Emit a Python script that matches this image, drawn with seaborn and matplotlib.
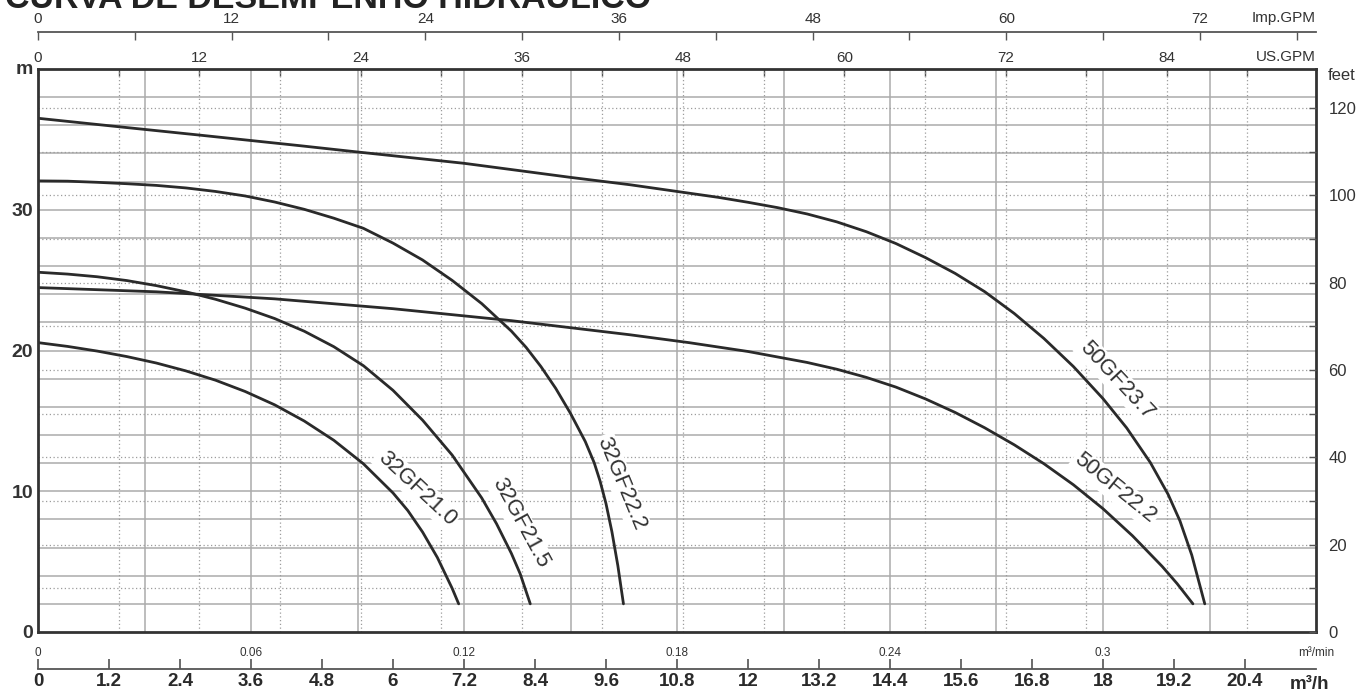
import numpy as np
import pandas as pd
import matplotlib
matplotlib.use("Agg")
import matplotlib.pyplot as plt
import seaborn as sns

# ---------------- data ----------------
q_32GF21_0 = [0.0, 0.5, 1.0, 1.5, 2.0, 2.5, 3.0, 3.5, 4.0, 4.5, 5.0, 5.5, 6.0, 6.25, 6.5, 6.75, 7.0, 7.11]
h_32GF21_0 = [20.56, 20.29, 19.96, 19.57, 19.11, 18.55, 17.89, 17.09, 16.14, 14.99, 13.62, 11.95, 9.88,
              8.63, 7.10, 5.29, 3.10, 2.0]

q_32GF21_5 = [0.0, 0.5, 1.0, 1.5, 2.0, 2.5, 3.0, 3.5, 4.0, 4.5, 5.0, 5.5, 6.0, 6.5, 7.0, 7.5, 7.75,
              8.0, 8.15, 8.32]
h_32GF21_5 = [25.56, 25.43, 25.24, 24.97, 24.61, 24.17, 23.64, 23.01, 22.27, 21.37, 20.27, 18.92, 17.17,
              15.05, 12.57, 9.52, 7.69, 5.59, 4.13, 2.0]

q_32GF22_2 = [0.0, 0.5, 1.0, 1.5, 2.0, 2.5, 3.0, 3.5, 4.0, 4.5, 5.0, 5.5, 6.0, 6.5, 7.0, 7.5, 8.0,
              8.25, 8.5, 8.75, 9.0, 9.25, 9.4, 9.5, 9.6, 9.7, 9.8, 9.895]
h_32GF22_2 = [32.05, 32.03, 31.95, 31.85, 31.73, 31.55, 31.30, 30.98, 30.55, 30.03, 29.40, 28.68, 27.63,
              26.43, 24.98, 23.33, 21.38, 20.22, 18.86, 17.31, 15.53, 13.53, 12.03, 10.72, 9.12, 7.12,
              4.72, 2.0]

q_50GF22_2 = [0.0, 2.0, 4.0, 6.0, 8.0, 10.0, 11.0, 12.0, 13.0, 13.5, 14.0, 14.5, 15.0, 15.5, 16.0,
              16.5, 17.0, 17.5, 18.0, 18.5, 19.0, 19.25, 19.52]
h_50GF22_2 = [24.47, 24.17, 23.67, 22.97, 22.12, 21.12, 20.56, 19.93, 19.15, 18.67, 18.09, 17.40, 16.56,
              15.60, 14.51, 13.30, 11.96, 10.46, 8.76, 6.83, 4.66, 3.45, 2.0]

q_50GF23_7 = [0.0, 1.36, 2.74, 4.43, 5.41, 7.2, 9.0, 10.0, 11.0, 11.5, 12.0, 12.5, 13.0, 13.5, 14.0,
              14.5, 15.0, 15.5, 16.0, 16.5, 17.0, 17.5, 18.0, 18.4, 18.8, 19.1, 19.3, 19.5, 19.72]
h_50GF23_7 = [36.5, 35.9, 35.3, 34.55, 34.1, 33.3, 32.3, 31.78, 31.18, 30.88, 30.53, 30.15, 29.70, 29.14,
              28.44, 27.60, 26.60, 25.48, 24.18, 22.63, 20.86, 18.86, 16.58, 14.50, 12.04, 9.78, 7.90,
              5.47, 2.0]

models = ["32GF21.0", "32GF21.5", "32GF22.2", "50GF22.2", "50GF23.7"]
series_q = [q_32GF21_0, q_32GF21_5, q_32GF22_2, q_50GF22_2, q_50GF23_7]
series_h = [h_32GF21_0, h_32GF21_5, h_32GF22_2, h_50GF22_2, h_50GF23_7]

# axis tick values
m3h_ticks = [0, 1.2, 2.4, 3.6, 4.8, 6, 7.2, 8.4, 9.6, 10.8, 12, 13.2, 14.4, 15.6, 16.8, 18, 19.2, 20.4]
m3min_ticks = [0, 0.06, 0.12, 0.18, 0.24, 0.3]
usgpm_ticks = [0, 6, 12, 18, 24, 30, 36, 42, 48, 54, 60, 66, 72, 78, 84, 90]
impgpm_ticks = [0, 6, 12, 18, 24, 30, 36, 42, 48, 54, 60, 66, 72, 78]
m_ticks = [0, 10, 20, 30]
m_grid = [2, 4, 6, 8, 10, 12, 14, 16, 18, 20, 22, 24, 26, 28, 30, 32, 34, 36, 38]
q_grid = [1.8, 3.6, 5.4, 7.2, 9.0, 10.8, 12.6, 14.4, 16.2, 18.0, 19.8]
feet_ticks = [0, 20, 40, 60, 80, 100, 120]
feet_grid = [10, 20, 30, 40, 50, 60, 70, 80, 90, 100, 110, 120]

Q_MAX = 21.6       # m3/h at right edge
H_MAX = 40.0       # m at top edge
FT_MAX = 128.9     # feet scale at top edge as drawn
US_PER_M3H = 4.4029
IMP_PER_M3H = 3.6661

df = pd.concat([pd.DataFrame({"q": q, "h": h, "model": m})
                for m, q, h in zip(models, series_q, series_h)], ignore_index=True)

# ---------------- style ----------------
sns.set_style("white")
plt.rcParams["font.family"] = ["Liberation Sans", "DejaVu Sans"]

W, H = 1370, 693
fig = plt.figure(figsize=(W / 100, H / 100), dpi=100)
L, R, T, B = 38, 1316, 69, 632
ax = fig.add_axes([L / W, (H - B) / H, (R - L) / W, (B - T) / H])
ax.set_xlim(0, Q_MAX)
ax.set_ylim(0, H_MAX)

solid_c = "#ababab"
dot_c = "#9c9c9c"
for y in m_grid:
    ax.axhline(y, color=solid_c, lw=1.1, zorder=1)
for x in q_grid:
    ax.axvline(x, color=solid_c, lw=1.1, zorder=1)
for f in feet_grid:
    ax.axhline(f * H_MAX / FT_MAX, color=dot_c, lw=0.9, ls=(0, (1, 2)), zorder=1)
for g in usgpm_ticks[1:]:
    ax.axvline(g / US_PER_M3H, color=dot_c, lw=0.9, ls=(0, (1, 2)), zorder=1)

curve_c = "#2a2a2a"
sns.lineplot(data=df, x="q", y="h", hue="model", palette={m: curve_c for m in models},
             estimator=None, sort=False, legend=False, lw=2.0, ax=ax, zorder=3)
for ln in ax.get_lines():
    ln.set_solid_joinstyle("round")

# curve labels
label_pos = {
    "32GF21.0": (6.40, 10.21, -43),
    "32GF21.5": (8.15, 7.73, -61.5),
    "32GF22.2": (9.86, 10.57, -67.5),
    "50GF23.7": (18.23, 17.91, -47),
    "50GF22.2": (18.20, 10.21, -39),
}
for m in models:
    x, y, rot = label_pos[m]
    ax.text(x, y, m, rotation=rot, rotation_mode="anchor", ha="center", va="center",
            fontsize=16, color="#333333", zorder=4,
            bbox=dict(facecolor="white", edgecolor="none", pad=1.5))

ax.set_xlabel("")
ax.set_ylabel("")
for s in ax.spines.values():
    s.set_visible(True)
    s.set_color("#333333")
    s.set_linewidth(2.0)
    s.set_zorder(6)

# left axis (m)
ax.set_yticks(m_ticks)
ax.set_yticklabels([str(v) for v in m_ticks], fontsize=14, fontweight="bold", color="#333333")
ax.tick_params(axis="y", left=True, length=0, pad=3.5)
ax.set_xticks([])
ax.text(-0.004, 1.0, "m", transform=ax.transAxes, ha="right", va="center",
        fontsize=14, fontweight="bold", color="#333333")

# right axis (feet)
tw = ax.twinx()
tw.set_ylim(0, FT_MAX)
tw.set_yticks(feet_ticks)
tw.set_yticks(feet_grid, minor=True)
tw.set_yticklabels([str(v) for v in feet_ticks], fontsize=12, color="#333333")
tw.tick_params(axis="y", which="both", direction="in", length=5, width=1, color="#555555", pad=9)
tw.set_ylabel("")
for s in tw.spines.values():
    s.set_visible(False)
ax.text(1.009, 0.988, "feet", transform=ax.transAxes, ha="left", va="center",
        fontsize=12, color="#333333")

# bottom m3/min labels
sec_min = ax.secondary_xaxis("bottom", functions=(lambda x: x / 60.0, lambda x: x * 60.0))
sec_min.set_xticks(m3min_ticks)
sec_min.set_xticklabels(["%g" % v for v in m3min_ticks], fontsize=8.5, color="#333333")
sec_min.tick_params(length=0, pad=11)
sec_min.spines["bottom"].set_visible(False)
ax.text(1.0, -0.037, "m³/min", transform=ax.transAxes, ha="center", va="center",
        fontsize=8.5, color="#333333")

# bottom m3/h axis
sec_h = ax.secondary_xaxis(-37 / (B - T))
sec_h.set_xticks(m3h_ticks)
sec_h.set_xticklabels(["%g" % v for v in m3h_ticks], fontsize=13.5, fontweight="bold",
                      color="#2a2a2a")
sec_h.tick_params(direction="in", length=7, width=1.1, color="#444444", pad=3)
sec_h.spines["bottom"].set_color("#555555")
sec_h.spines["bottom"].set_linewidth(1.3)
ax.text(0.995, -0.0924, "m³/h", transform=ax.transAxes, ha="center", va="center",
        fontsize=13.5, fontweight="bold", color="#2a2a2a")

# top US.GPM
sec_us = ax.secondary_xaxis("top", functions=(lambda x: x * US_PER_M3H, lambda x: x / US_PER_M3H))
sec_us.set_xticks(usgpm_ticks)
sec_us.set_xticklabels([str(v) if v % 12 == 0 and v < 90 else "" for v in usgpm_ticks],
                       fontsize=11, color="#333333")
sec_us.tick_params(direction="in", length=5, width=1, color="#555555", pad=3)
sec_us.spines["top"].set_visible(False)
ax.text(1.0, 1.0213, "US.GPM", transform=ax.transAxes, ha="right", va="center",
        fontsize=11, color="#333333")

# top Imp.GPM axis
sec_imp = ax.secondary_xaxis(1 + 37 / (B - T),
                             functions=(lambda x: x * IMP_PER_M3H, lambda x: x / IMP_PER_M3H))
sec_imp.set_xticks(impgpm_ticks)
sec_imp.set_xticklabels([str(v) if v % 12 == 0 else "" for v in impgpm_ticks],
                        fontsize=11, color="#333333")
sec_imp.tick_params(direction="in", length=6, width=1, color="#555555", pad=4)
sec_imp.spines["top"].set_color("#555555")
sec_imp.spines["top"].set_linewidth(1.3)
ax.text(1.0, 1.0906, "Imp.GPM", transform=ax.transAxes, ha="right", va="center",
        fontsize=11, color="#333333")

# title (partly outside the canvas, as in the reference)
fig.text(5 / W, 1 - 8 / H, "CURVA DE DESEMPENHO HIDRÁULICO", ha="left", va="baseline",
         fontsize=24.5, fontweight="bold", color="#222222")

fig.savefig("out.png", dpi=100)
